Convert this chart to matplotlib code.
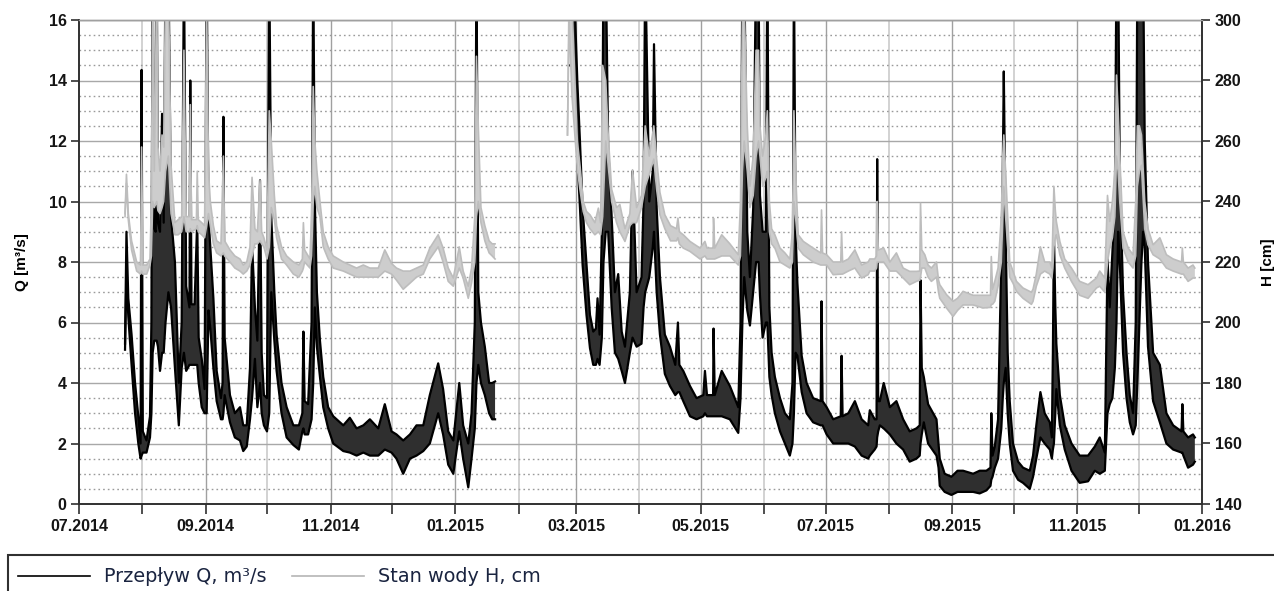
import numpy as np
import pandas as pd
import matplotlib
matplotlib.use("Agg")
import matplotlib.pyplot as plt
import matplotlib.dates as mdates
from matplotlib.patches import Rectangle
from matplotlib.lines import Line2D

START = "2014-07-01"

# Przepływ Q [m3/s] - dzień od 01.07.2014, dolna i górna obwiednia dobowych wahań
q_day = [22.5, 23.2, 24.1, 25.7, 27.4, 29.0, 30.1, 30.6, 31.2, 33.0, 34.7, 35.4, 36.0, 36.8, 37.5,
         38.0, 38.6, 39.6, 40.6, 41.4, 42.3, 43.7, 45.0, 46.9, 48.8, 50.2, 51.3, 52.4, 54.0, 54.4,
         55.0, 56.5, 57.8, 58.5, 60.0, 61.4, 62.4, 63.3, 64.2, 65.7, 67.3, 69.4, 70.2, 70.6, 71.2,
         73.8, 76.2, 78.7, 80.3, 82.0, 83.6, 84.6, 86.0, 87.2, 88.5, 89.3, 90.4, 91.9, 93.0, 94.0,
         95.5, 96.6, 99.0, 101.5, 104.8, 107.5, 109.2, 109.7, 110.3, 112.0, 113.7, 114.5, 115.3, 116.3,
         117.8, 119.4, 121.8, 124.3, 129.2, 132.4, 135.7, 139.0, 142.2, 146.3, 149.5, 152.8, 155.2,
         158.5, 161.8, 165.0, 168.3, 171.5, 175.6, 178.0, 180.5, 183.0, 185.9, 187.8, 190.3, 191.9,
         193.5, 194.3, 195.2, 196.5, 198.4, 200.5, 202.0, 203.4,
         240.0, 241.6, 243.6, 244.9, 246.2, 248.1, 249.8, 251.4, 252.7, 253.5, 254.5, 255.6, 256.4,
         257.5, 258.7, 260.4, 262.0, 263.6, 265.3, 266.9, 269.3, 270.6, 272.6, 275.0, 276.0, 276.8,
         278.8, 280.5, 281.1, 282.4, 284.0, 286.4, 288.9, 291.5, 292.8, 293.5, 295.4, 298.7, 301.9,
         305.2, 306.0, 307.0, 310.0, 310.2, 310.8, 314.2, 318.2, 322.3, 323.4, 324.3, 325.2, 326.7,
         328.0, 329.6, 331.0, 332.2, 332.9, 334.2, 335.8, 336.5, 337.5, 338.6, 340.2, 342.7, 345.1,
         347.5, 348.8, 349.5, 350.3, 351.2, 353.3, 355.7, 358.9, 362.6, 363.0, 363.5, 365.5, 368.7,
         372.4, 372.8, 373.3, 376.1, 379.3, 382.6, 385.8, 386.6, 389.0, 389.9, 390.2, 390.7, 391.5,
         393.4, 396.4, 399.6, 402.9, 406.1, 409.4, 411.0, 411.4, 412.0, 413.0, 415.1, 419.2, 420.2,
         420.8, 423.2, 426.5, 429.5, 432.2, 437.1, 440.3, 443.6, 445.6, 446.0, 446.6, 447.7, 449.3,
         450.9, 451.6, 452.1, 453.0, 454.0, 455.0, 456.6, 459.1, 461.5, 464.8, 466.4, 468.0, 470.0,
         472.1, 474.6, 475.6, 476.1, 476.6, 477.3, 477.8, 479.5, 481.9, 485.2, 489.2, 493.3, 496.6,
         499.0, 501.5, 502.8, 503.9, 505.2, 506.4, 507.2, 508.0, 508.8, 510.4, 512.1, 513.7, 515.3,
         516.6, 517.4, 519.4, 520.2, 521.0, 522.6, 525.1, 528.4, 531.6, 534.9, 539.0, 539.4, 539.9,
         542.2, 544.6, 545.5]
q_low = [5.1, 7.6, 6.2, 4.6, 3.0, 2.0, 1.5, 1.6, 1.7, 1.7, 2.2, 3.0, 5.0, 5.4, 5.4,
         5.4, 5.2, 4.4, 5.0, 5.0, 6.0, 7.0, 6.5, 4.5, 2.6, 4.5, 5.0, 4.4, 4.6, 4.6,
         4.6, 4.6, 4.6, 4.0, 3.2, 3.0, 3.0, 6.4, 5.8, 4.5, 3.4, 2.8, 2.8, 3.0, 3.6,
         2.7, 2.2, 2.1, 1.75, 1.9, 2.8, 3.5, 4.8, 3.2, 4.0, 3.0, 2.6, 2.4, 3.0, 7.0,
         5.4, 4.4, 3.0, 2.2, 1.95, 1.8, 2.4, 2.5, 2.3, 2.3, 2.8, 4.0, 6.5, 5.2,
         4.2, 3.2, 2.5, 2.0, 1.75, 1.7, 1.6, 1.7, 1.6, 1.6, 1.8, 1.7, 1.5,
         1.0, 1.5, 1.6, 1.75, 2.0, 3.0, 2.3, 1.3, 1.0, 2.4, 1.5, 0.55, 1.5,
         2.5, 4.0, 4.6, 4.0, 3.6, 3.0, 2.8, 2.8,
         14.5, 14.5, 11.5, 9.8, 7.9, 6.25, 5.15, 4.6, 4.6, 4.8, 4.6, 5.5, 8.0,
         9.0, 9.0, 6.5, 5.0, 4.8, 4.4, 4.0, 5.0, 5.5, 5.2, 5.3, 6.5, 7.0,
         7.5, 8.5, 9.0, 7.0, 5.6, 4.3, 3.9, 3.6, 3.7, 3.7, 3.4, 2.9, 2.8,
         2.9, 3.0, 2.9, 2.9, 2.9, 2.9, 2.9, 2.8, 2.35, 3.5, 6.0, 7.5, 6.4,
         5.9, 7.0, 8.0, 8.0, 6.9, 5.5, 6.0, 6.0, 4.2, 3.6, 3.0, 2.4, 2.0,
         1.6, 2.0, 3.0, 5.0, 4.9, 3.7, 3.0, 2.7, 2.6, 2.6, 2.6, 2.3, 2.0,
         2.0, 2.0, 2.0, 2.0, 1.9, 1.6, 1.5, 1.6, 1.8, 1.9, 2.2, 2.4, 2.6,
         2.5, 2.3, 2.0, 1.8, 1.4, 1.5, 1.6, 2.0, 2.3, 2.7, 2.0, 1.6, 1.2,
         0.6, 0.4, 0.3, 0.4, 0.4, 0.4, 0.35, 0.45, 0.6, 0.8, 0.9, 1.2, 1.5,
         2.5, 3.5, 4.0, 4.5, 3.0, 2.0, 1.1, 0.8, 0.7, 0.5, 0.9, 1.5, 2.2,
         2.0, 1.8, 1.5, 1.8, 2.0, 3.0, 3.8, 2.6, 1.8, 1.1, 0.7, 0.75, 1.1,
         1.0, 1.1, 3.0, 3.3, 3.5, 4.5, 6.0, 9.0, 8.0, 5.0, 3.5, 2.7, 2.3,
         2.6, 4.0, 8.0, 9.0, 8.5, 5.2, 3.4, 2.7, 2.0, 1.8, 1.7, 1.7, 1.6,
         1.2, 1.3, 1.4]
q_high = [5.3, 9.0, 6.8, 5.6, 4.0, 2.9, 2.0, 14.35, 2.4, 2.1, 2.9, 6.0, 18, 9.1, 9.0,
          18, 9.3, 9.0, 12.9, 9.3, 18, 18, 9.5, 8.0, 4.0, 6.0, 18, 7.2, 6.5, 14.0,
          6.6, 6.6, 9.4, 5.5, 4.8, 3.8, 18, 9.5, 8.5, 6.8, 4.4, 3.5, 4.0, 12.8, 5.5,
          3.6, 3.0, 3.2, 2.6, 2.6, 4.5, 8.6, 6.5, 5.4, 10.7, 5.0, 3.6, 3.5, 18, 9.5,
          7.0, 5.6, 4.0, 3.2, 2.6, 2.6, 3.0, 5.7, 3.4, 3.3, 6.0, 18, 10.0, 7.0,
          5.4, 4.2, 3.2, 2.9, 2.6, 2.85, 2.5, 2.6, 2.8, 2.5, 3.3, 2.4, 2.3,
          2.1, 2.3, 2.6, 2.6, 3.6, 4.65, 3.8, 2.4, 2.1, 4.0, 2.6, 2.0, 3.0,
          6.0, 18, 7.0, 6.0, 5.2, 4.0, 4.0, 4.05,
          18, 18, 14.0, 12.0, 9.8, 7.9, 6.25, 5.7, 5.8, 6.8, 5.6, 9.0, 18,
          18, 11.8, 9.5, 7.0, 7.6, 5.7, 5.2, 7.0, 11.0, 7.0, 7.5, 10.0, 18,
          10.0, 11.0, 15.2, 9.8, 7.5, 5.6, 5.2, 4.6, 6.0, 4.6, 4.4, 3.9, 3.5,
          3.6, 4.4, 3.6, 3.6, 5.8, 3.6, 4.4, 3.9, 3.2, 6.0, 18, 18, 9.0,
          7.5, 9.8, 18, 18, 10.2, 9.0, 9.0, 18, 6.5, 5.0, 4.2, 3.5, 3.0,
          2.8, 4.0, 18, 9.0, 7.3, 4.9, 4.0, 3.5, 3.4, 6.7, 3.4, 3.2, 2.8,
          2.9, 4.9, 2.9, 3.0, 3.4, 2.8, 2.6, 3.1, 2.8, 2.8, 11.4, 3.4, 3.4,
          4.0, 3.2, 3.4, 2.8, 2.4, 2.5, 2.6, 7.4, 4.5, 4.2, 3.3, 2.8, 2.0,
          1.5, 1.0, 0.9, 1.1, 1.1, 1.0, 1.1, 1.1, 1.2, 3.0, 1.6, 1.9, 2.8,
          8.2, 11.0, 14.3, 9.0, 5.0, 3.4, 2.0, 1.4, 1.2, 1.1, 1.6, 2.6, 3.7,
          3.0, 2.7, 2.2, 5.0, 9.0, 6.5, 5.3, 3.6, 2.6, 2.0, 1.6, 1.6, 1.9,
          2.2, 1.7, 8.1, 6.5, 8.3, 10.0, 18, 18, 11.0, 7.0, 5.0, 3.6, 3.0,
          6.0, 18, 18, 18, 12.0, 8.0, 5.0, 4.6, 3.0, 2.6, 2.4, 3.3, 2.4,
          2.2, 2.3, 2.2]

# Stan wody H [cm]
h_day = [22.5, 23.2, 24.1, 25.7, 28.2, 30.1, 30.6, 31.2, 33.1, 34.7, 35.4, 36.0, 36.8, 38.0, 38.6,
         39.6, 40.6, 41.4, 42.3, 43.7, 45.0, 46.9, 48.5, 50.2, 51.3, 52.4, 54.0, 54.4, 55.0, 57.4,
         57.8, 58.3, 60.0, 61.4, 62.4, 63.3, 64.2, 65.7, 67.3, 69.4, 70.6, 71.2, 73.8, 76.2, 78.7,
         80.3, 82.0, 83.6, 84.6, 86.0, 87.2, 88.5, 89.3, 90.4, 91.9, 93.0, 94.0, 95.5, 96.6, 99.0,
         101.5, 104.8, 107.5, 109.2, 109.7, 110.3, 112.9, 113.7, 114.5, 115.3, 116.3, 117.8, 119.4,
         121.8, 124.3, 129.2, 132.4, 135.7, 139.0, 142.2, 146.3, 149.5, 152.8, 155.2, 158.5, 161.8,
         165.0, 168.3, 171.5, 175.6, 178.0, 180.5, 183.0, 185.9, 187.8, 190.3, 191.9, 193.5, 194.3,
         195.2, 196.5, 198.4, 200.5, 202.0, 203.4,
         238.8, 239.6, 241.0, 243.6, 244.9, 246.5, 248.1, 249.8, 252.2, 253.9, 255.0, 256.0, 257.5,
         258.7, 260.4, 262.8, 264.4, 266.9, 269.3, 270.6, 272.6, 275.0, 276.8, 278.8, 281.0, 282.4,
         284.0, 286.4, 289.2, 292.1, 292.8, 293.5, 295.4, 298.7, 303.6, 306.0, 307.0, 310.0, 310.2,
         310.8, 314.2, 318.2, 322.3, 323.4, 324.3, 325.2, 326.7, 328.0, 329.6, 331.0, 332.2, 332.9,
         334.2, 335.8, 336.5, 337.5, 338.6, 340.2, 342.7, 345.1, 347.5, 348.8, 349.5, 350.3, 351.6,
         354.1, 358.9, 362.6, 363.0, 363.5, 365.5, 368.7, 372.4, 372.8, 373.3, 376.1, 379.3, 382.6,
         385.8, 386.6, 389.0, 389.9, 390.2, 390.7, 393.4, 396.4, 399.6, 402.9, 406.1, 409.4, 411.0,
         411.4, 412.0, 413.5, 415.1, 416.7, 419.2, 420.2, 420.8, 424.1, 427.3, 429.5, 432.2, 437.1,
         442.0, 445.6, 446.0, 446.6, 447.7, 449.3, 450.9, 451.6, 452.1, 453.0, 454.0, 455.0, 456.6,
         458.3, 461.5, 465.6, 466.4, 468.0, 470.0, 472.1, 474.6, 475.6, 476.1, 476.6, 477.3, 477.8,
         479.5, 481.9, 485.2, 489.2, 493.3, 497.4, 499.0, 501.5, 502.8, 503.9, 505.2, 506.4, 507.2,
         508.0, 508.8, 510.4, 512.9, 515.3, 516.6, 517.4, 518.4, 519.4, 521.0, 522.6, 525.1, 528.4,
         531.6, 534.9, 539.0, 539.4, 539.9, 542.2, 544.6, 545.5]
h_low = [235, 246, 234, 224, 217, 216, 217, 216, 216, 219, 222, 240, 238, 240, 237,
         236, 238, 240, 250, 255, 236, 229, 229, 230, 235, 230, 230, 231, 230, 231,
         232, 230, 229, 228, 232, 236, 232, 226, 223, 222, 223, 222, 220, 218, 217,
         216, 217, 219, 222, 226, 226, 227, 226, 225, 221, 225, 238, 234, 228, 221,
         219, 216, 215, 217, 218, 220, 218, 222, 240, 245, 238, 235, 225,
         221, 218, 217, 216, 215, 215, 215, 215, 217, 216, 214, 211, 213,
         215, 216, 221, 225, 220, 213.6, 212, 218, 214.7, 208, 213, 220, 235,
         240, 233, 227, 223, 222, 221,
         262, 300, 275, 251, 244, 236.7, 233, 231, 229, 230, 229, 235, 260,
         252, 240, 233, 230, 226.8, 232, 233, 233, 238, 245, 249, 254, 244,
         235.6, 231, 227, 227, 228, 226, 224.6, 223.5, 221, 222, 221, 221, 221,
         221, 222, 222, 219, 222, 250, 260, 250, 238, 242, 255, 260, 255,
         245, 248, 250, 230, 226, 224.6, 220, 219, 218, 220, 240, 235, 224.6,
         222.4, 220, 219, 219, 219, 219, 215.8, 216, 216, 216, 217, 218, 214.7,
         215.8, 217, 217, 218, 220, 220, 220, 217, 217, 214.7, 212.5, 213.6, 214,
         215, 218, 218, 215, 213.6, 215, 210, 208, 204.8, 202, 204, 205.8, 205.8,
         204.8, 205, 206, 206, 207, 212, 220, 235, 245, 235, 225, 215, 213,
         210.3, 208, 206, 207, 212, 216, 217, 216, 214.7, 218, 225, 228, 229,
         222.4, 218, 213.6, 209, 208, 211.4, 212, 210, 220, 224.6, 228, 235, 255,
         250, 240, 224.6, 220, 218, 222, 245, 250, 252, 231, 225.7, 222.4, 221,
         218, 217, 216, 216, 216, 213.6, 214.7, 214.7]
h_high = [236, 249, 236, 227, 220, 219, 258, 219, 219, 221, 240, 310, 250, 310, 258,
          250, 262, 258, 310, 310, 252, 233, 234, 235, 290, 235, 235, 272, 234, 234,
          250, 234, 233, 232, 305, 250, 240, 232, 227, 226, 255, 227, 224, 222, 221,
          219, 220, 225, 248, 231, 230, 247, 230, 228, 224, 270, 260, 242, 232, 225,
          222, 220, 219, 221, 233, 224, 221, 235, 278, 260, 250, 240, 230,
          225, 222, 220, 219, 218, 219, 218, 218, 224, 219.5, 218, 217, 217,
          218, 219, 224.6, 229, 224.6, 218, 214.7, 225, 217, 212, 218, 235, 288,
          265, 238, 232, 227, 226, 226,
          262, 310, 305, 260, 252, 240, 236.7, 235.6, 233, 237.8, 233, 285, 280,
          262, 244, 238, 239, 231, 236, 250.5, 238, 242, 265, 255, 265, 254,
          243, 235.6, 232, 231, 234.5, 230, 229, 226.8, 224.6, 226.8, 224.6, 224.6, 234.5,
          224.6, 229, 226, 222.4, 240, 300, 305, 265, 245, 255, 290, 290, 265,
          255, 262, 270, 240, 231, 229, 224.6, 223, 221, 230, 270, 250, 229,
          226.8, 224.6, 223, 237.2, 223, 222.4, 220, 220, 230, 220, 221, 224, 219,
          220, 221, 221, 222, 240, 224, 224.6, 220, 223, 218, 216.9, 216.9, 217,
          239.4, 224, 222.4, 219, 218, 220, 214, 212.5, 209.2, 207, 208, 210.3, 209,
          209, 209, 221.8, 211, 213.6, 218, 235, 255, 262, 250, 235, 220, 217,
          213.6, 211.4, 210, 211, 216, 225, 220, 220, 218, 232, 245, 237, 233.4,
          226.8, 221, 218, 213.6, 212.5, 214.7, 217, 214.7, 242, 233.4, 240, 250, 281.8,
          270, 255, 230, 224.6, 222.4, 240, 265, 265, 262, 240, 231, 225.7, 228,
          222.4, 221, 220, 224.6, 220, 218, 219, 218]


def to_series(day, low, high):
    day = np.asarray(day, float)
    low = np.asarray(low, float)
    high = np.asarray(high, float)
    # przerwa w pomiarach -> NaN
    brk = np.where(np.diff(day) > 10)[0] + 1
    day = np.insert(day, brk, day[brk - 1] + 0.5)
    low = np.insert(low, brk, np.nan)
    high = np.insert(high, brk, np.nan)
    t = pd.Timestamp(START) + pd.to_timedelta(day, unit="D")
    return t, low, high


qt, ql, qh = to_series(q_day, q_low, q_high)
ht, hl, hh = to_series(h_day, h_low, h_high)

tick_font = dict(family="Liberation Sans", size=11.5, weight="bold")

fig = plt.figure(figsize=(12.74, 5.91), dpi=100)
ax = fig.add_axes([79 / 1274, 1 - 504 / 591, (1202 - 79) / 1274, (504 - 20) / 591])
ax2 = ax.twinx()

# siatka
ax.set_ylim(0, 16)
ax.set_yticks(np.arange(0, 17, 2))
ax.set_yticks(np.arange(0, 16.01, 0.5), minor=True)
ax.grid(True, axis="y", which="major", color="#a8a8a8", lw=1.0)
ax.grid(True, axis="y", which="minor", color="#9a9a9a", lw=1.0, linestyle=(0, (1.2, 2.2)))
months = pd.date_range("2014-07-01", "2016-01-01", freq="MS")
for m in months[1:-1]:
    c = "#a0a0a0" if m.month % 2 == 1 else "#d2d2d2"
    ax.axvline(m, color=c, lw=1.4 if m.month % 2 == 0 else 1.0, zorder=0.5)

# Q
ax.fill_between(qt, ql, qh, color="#2f2f2f", lw=0, zorder=2)
ax.plot(qt, ql, color="black", lw=1.6, zorder=2.1)
ax.plot(qt, qh, color="black", lw=1.6, zorder=2.1)

# H
ax2.set_ylim(140, 300)
ax2.fill_between(ht, hl, hh, color="#cdcdcd", lw=0, zorder=2)
ax2.plot(ht, hl, color="#bdbdbd", lw=1.2, zorder=2.1)
ax2.plot(ht, hh, color="#bdbdbd", lw=1.2, zorder=2.1)
ax2.set_yticks(np.arange(140, 301, 20))

ax.set_xlim(pd.Timestamp("2014-07-01"), pd.Timestamp("2016-01-01"))
ax.xaxis.set_major_locator(mdates.MonthLocator(bymonth=[1, 3, 5, 7, 9, 11]))
ax.xaxis.set_minor_locator(mdates.MonthLocator())
ax.xaxis.set_major_formatter(mdates.DateFormatter("%m.%Y"))

for a in (ax, ax2):
    for s in a.spines.values():
        s.set_color("#303030")
        s.set_linewidth(1.2)
    a.spines["top"].set_color("#a0a0a0")
    a.spines["top"].set_linewidth(1.0)
ax.tick_params(axis="x", which="both", length=7, width=1.2, color="#303030", pad=4)
ax.tick_params(axis="y", which="major", length=6, width=1.2, color="#303030", pad=3)
ax.tick_params(axis="y", which="minor", length=0)
ax2.tick_params(axis="y", length=6, width=1.2, color="#303030", pad=3)
for lab in ax.get_xticklabels() + ax.get_yticklabels() + ax2.get_yticklabels():
    lab.set_fontproperties(tick_font)
    lab.set_color("#151515")

ax.set_ylabel("Q [m³/s]", family="Liberation Sans", size=11, weight="bold", labelpad=14)
ax2.set_ylabel("H [cm]", family="Liberation Sans", size=11, weight="bold", labelpad=14)

# legenda
fig.patches.append(Rectangle((8 / 1274, -0.05), 1.1, 1 - 555 / 591 + 0.05,
                             transform=fig.transFigure, fill=False, ec="#303030", lw=1.5))
handles = [Line2D([], [], color="black", lw=1.2), Line2D([], [], color="#b5b5b5", lw=1.2)]
fig.legend(handles, ["Przepływ Q, m³/s", "Stan wody H, cm"], loc="center left",
           bbox_to_anchor=(18 / 1274, 1 - 577 / 591), ncol=2, frameon=False,
           borderpad=0, borderaxespad=0,
           handlelength=3.75, handletextpad=0.7, columnspacing=1.3,
           prop=dict(family="DejaVu Sans", size=13.9), labelcolor="#1a2440")

fig.savefig("out.png", dpi=100)
